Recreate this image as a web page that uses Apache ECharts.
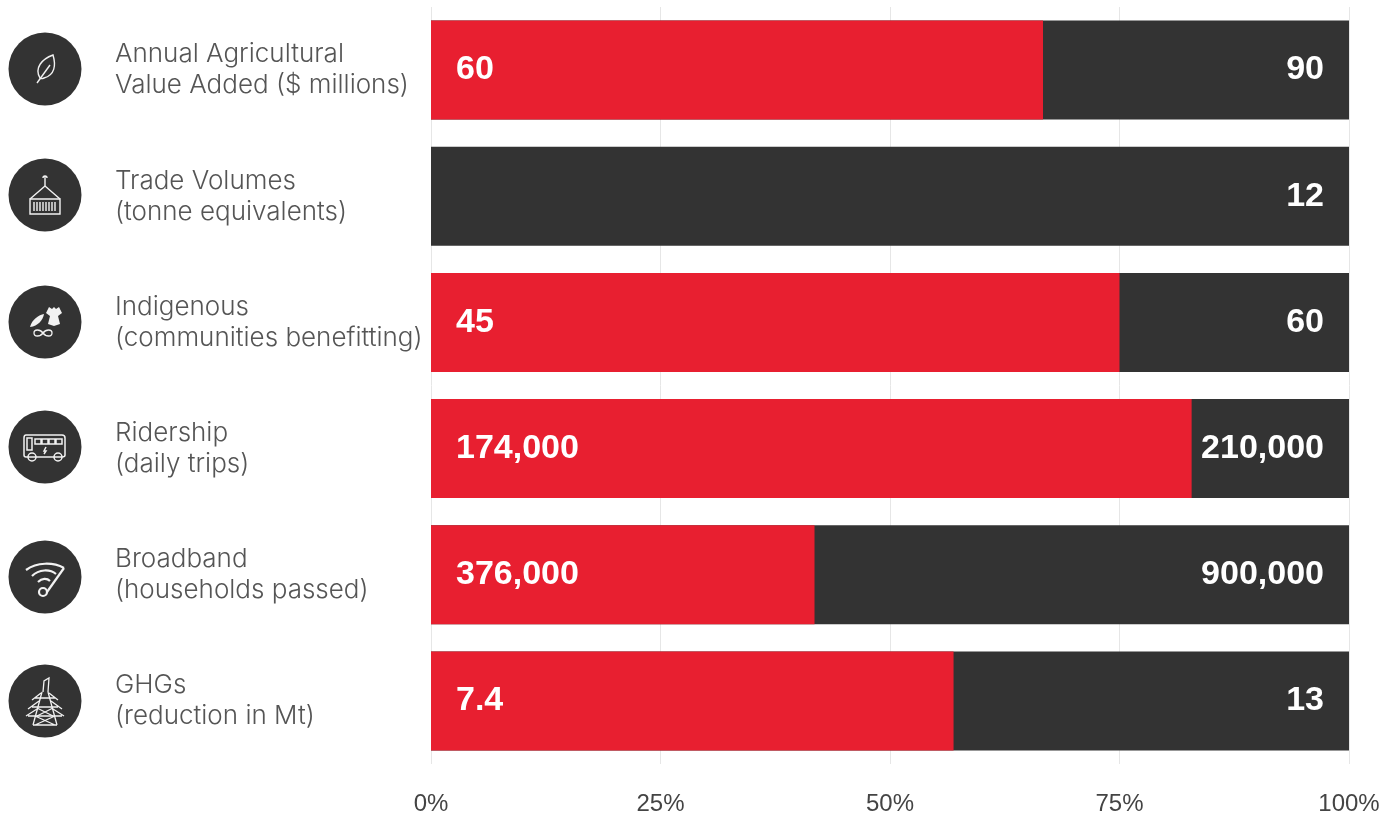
<!DOCTYPE html>
<html>
<head>
<meta charset="utf-8">
<style>html,body{margin:0;padding:0;background:#fff}#chart{width:1395px;height:817px}</style>
<script src="https://cdn.jsdelivr.net/npm/echarts@6/dist/echarts.min.js"></script>
</head>
<body>
<div id="chart"></div>
<script>
// Progress against target for six outcome measures
const categories = [
  'Annual Agricultural\nValue Added ($ millions)',
  'Trade Volumes\n(tonne equivalents)',
  'Indigenous\n(communities benefitting)',
  'Ridership\n(daily trips)',
  'Broadband\n(households passed)',
  'GHGs\n(reduction in Mt)'
];
const achieved = [60, null, 45, 174000, 376000, 7.4];
const targets = [90, 12, 60, 210000, 900000, 13];
const axisTicks = [0, 25, 50, 75, 100];

const RED = '#e81f30';
const DARK = '#333333';
const LABEL_FONT = '"Liberation Sans", Arial, sans-serif';

// Each measure is shown as a share of its own target
const achievedShare = achieved.map((v, i) => v == null ? null : v / targets[i] * 100);
const targetShare = targets.map(() => 100);

const fmt = v => v.toLocaleString('en-US');

// Line icons, drawn around the centre of each badge
const icons = [
  { y: 69, width: 1.4, paths: [
    'M-8,14 L5,-4',
    'M-5,9 C-11,-1 -3,-10 8,-14 C11,-4 10,6 -1,9 C-3,10 -4,10 -5,9 Z'
  ] },
  { y: 195, width: 1.4, paths: [
    'M0,-19 L0,-9 M-2,-17 A2,2 0 1 1 2,-17',
    'M0,-9 L-15,4 M0,-9 L15,4',
    'M-15,4 L15,4 L15,19 L-15,19 Z',
    'M-11,7 V16 M-8,7 V16 M-5,7 V16 M-2,7 V16 M1,7 V16 M4,7 V16 M7,7 V16 M10,7 V16'
  ] },
  { y: 322, width: 1.3,
    solid: ['M1,-9 L4,-15 L7,-13 L9,-15 L11,-13 L14,-15 L17,-9 L13,-6 L15,2 L9,4 L3,2 L5,-6 Z',
            'M-15,5 C-13,-3 -6,-7 -1,-8 C-2,-2 -7,4 -15,5 Z'],
    paths: [
    'M-2,11 C-5,7 -11,7 -11,11 C-11,15 -5,15 -2,11 C1,7 7,7 7,11 C7,15 1,15 -2,11 Z'
  ] },
  { y: 447, width: 1.5, paths: [
    'M-19,-12 H17 Q20,-12 20,-9 V8 Q20,10 17,10 H-19 Q-21,10 -21,8 V-9 Q-21,-12 -19,-12 Z',
    'M-18,-9 H-13 V3 H-18 Z',
    'M-10,-8 H-4 V-3 H-10 Z M-3,-8 H3 V-3 H-3 Z M4,-8 H10 V-3 H4 Z M11,-8 H17 V-3 H11 Z',
    'M-17,10 A4,4 0 1 0 -9,10 A4,4 0 1 0 -17,10 Z M9,10 A4,4 0 1 0 17,10 A4,4 0 1 0 9,10 Z',
    'M1,0 L-1,4 L1,4 L-1,7'
  ] },
  { y: 577, width: 2.2, paths: [
    'M-19,-7 C-8,-15 8,-15 19,-9',
    'M-13,-1 C-6,-8 5,-8 11,-3',
    'M-7,5 C-3,1 2,1 5,4',
    'M19,-9 L2,15',
    'M-6,15 A4,4 0 1 0 2,15 A4,4 0 1 0 -6,15 Z'
  ] },
  { y: 701, width: 1.3, paths: [
    'M-2,-9 L-1,-20 L4,-23 L3,-9',
    'M-3,-9 L-12,24 M3,-9 L12,24',
    'M-10,-3 H10 M-4,-8 L-13,-1 M4,-8 L13,-1',
    'M-13,6 H13 M-6,0 L-17,8 M6,0 L17,8',
    'M-17,15 H17 M-8,8 L-19,15 M8,8 L19,15',
    'M-8,7 L8,15 M8,7 L-8,15 M-10,15 L10,24 M10,15 L-10,24 M-12,24 H12'
  ] }
];

// SVG path strings become named shapes the graphic component can instantiate
let shapeCount = 0;
function pathElement(d, style) {
  const name = 'iconPath' + (shapeCount++);
  echarts.graphic.registerShape(name, echarts.graphic.extendPath(d, {}));
  return { type: name, style };
}

const badges = icons.map(icon => ({
  type: 'group',
  x: 45,
  y: icon.y,
  children: [
    { type: 'circle', shape: { cx: 0, cy: 0, r: 36.5 }, style: { fill: DARK } },
    ...(icon.solid || []).map(d => pathElement(d, { fill: '#f2f2f2', stroke: null })),
    ...icon.paths.map(d => pathElement(d, { fill: null, stroke: '#f2f2f2', lineWidth: icon.width }))
  ]
}));

const chart = echarts.init(document.getElementById('chart'), null, { renderer: 'canvas' });
chart.setOption({
  animation: false,
  backgroundColor: '#fff',
  grid: { left: 431, right: 46, top: 7, height: 757, containLabel: false },
  xAxis: {
    type: 'value',
    min: 0,
    max: 100,
    interval: axisTicks[1] - axisTicks[0],
    axisLine: { show: false },
    axisTick: { show: false },
    splitLine: { show: true, lineStyle: { color: '#e6e6e6', width: 1 } },
    axisLabel: {
      formatter: '{value}%',
      fontFamily: LABEL_FONT,
      fontSize: 24,
      color: '#444444',
      margin: 28
    }
  },
  yAxis: {
    type: 'category',
    inverse: true,
    data: categories,
    axisLine: { show: false },
    axisTick: { show: false },
    splitLine: { show: false },
    axisLabel: {
      align: 'left',
      margin: 316,
      fontFamily: 'Inter, "Open Sans", sans-serif',
      fontWeight: 300,
      fontSize: 26,
      lineHeight: 31,
      color: '#555555',
      padding: [0, 0, 12, 0]
    }
  },
  series: [
    {
      name: 'Target',
      type: 'bar',
      barWidth: 99,
      barGap: '-100%',
      data: targetShare,
      itemStyle: { color: DARK },
      label: {
        show: true,
        position: 'insideRight',
        distance: 25,
        formatter: p => fmt(targets[p.dataIndex]),
        color: '#ffffff',
        fontFamily: LABEL_FONT,
        fontWeight: 'bold',
        fontSize: 34
      }
    },
    {
      name: 'Achieved',
      type: 'bar',
      barWidth: 99,
      barGap: '-100%',
      data: achievedShare,
      itemStyle: { color: RED },
      label: {
        show: true,
        position: 'insideLeft',
        distance: 25,
        formatter: p => achieved[p.dataIndex] == null ? '' : fmt(achieved[p.dataIndex]),
        color: '#ffffff',
        fontFamily: LABEL_FONT,
        fontWeight: 'bold',
        fontSize: 34
      }
    }
  ],
  graphic: badges
});
</script>
</body>
</html>
